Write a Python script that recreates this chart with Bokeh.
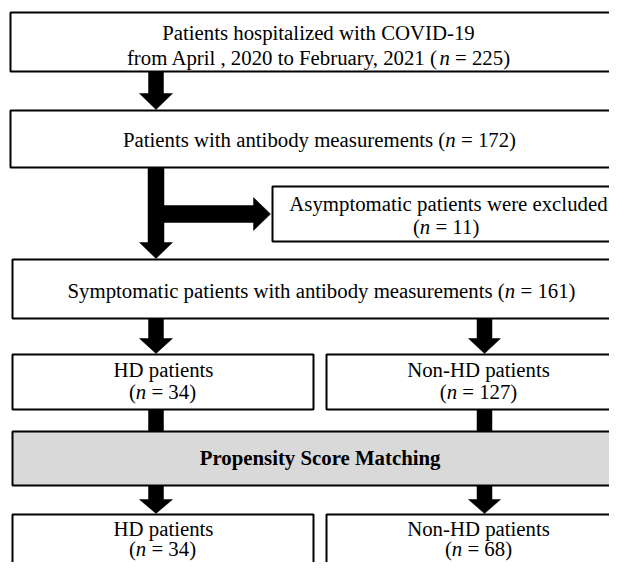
from bokeh.plotting import figure
from bokeh.models import Range1d, ColumnDataSource
from bokeh.core.properties import value
from bokeh.embed import file_html
from bokeh.resources import INLINE

# ---------------- data ----------------
stage_titles = [
    "Patients hospitalized with COVID-19",
    "from April , 2020 to February, 2021 ",
    "Patients with antibody measurements ",
    "Asymptomatic patients were excluded",
    "Symptomatic patients with antibody measurements ",
    "HD patients",
    "Non-HD patients",
    "Propensity Score Matching",
]
counts_total = 225
counts_antibody = 172
counts_excluded = 11
counts_symptomatic = 161
counts_groups = [34, 127]          # HD, Non-HD before matching
counts_matched = [34, 68]          # HD, Non-HD after matching

FONT = "Liberation Serif"
FS = 20.8
TEXT_SHIFT = 8  # compensates the renderer's baseline offset

# Times metrics (1/1000 em)
REG = {' ': 250, '(': 333, ')': 333, ',': 250, '-': 333, '.': 250, '=': 564,
       'A': 722, 'C': 667, 'D': 722, 'F': 556, 'H': 722, 'I': 333, 'M': 889,
       'N': 722, 'O': 722, 'P': 556, 'S': 556, 'V': 722,
       'a': 444, 'b': 500, 'c': 444, 'd': 500, 'e': 444, 'f': 333, 'g': 500,
       'h': 500, 'i': 278, 'l': 278, 'm': 778, 'n': 500, 'o': 500, 'p': 500,
       'r': 333, 's': 389, 't': 278, 'u': 500, 'w': 722, 'x': 500, 'y': 500,
       'z': 444}
ITA = {'n': 500, ' ': 250}
BLD = {' ': 250, 'P': 611, 'S': 556, 'M': 944, 'a': 500, 'c': 444, 'e': 444,
       'g': 500, 'h': 556, 'i': 278, 'n': 556, 'o': 500, 'p': 556, 'r': 444,
       's': 389, 't': 333, 'y': 500}
TABLES = {"normal": REG, "italic": ITA, "bold": BLD}


def width(s, style):
    t = TABLES[style]
    return sum(t.get(ch, 500) for ch in s) * FS / 1000.0


def n_line(prefix, count):
    return [(prefix + "(", "normal"), ("n", "italic"), (f" = {count})", "normal")]


# ---------------- figure ----------------
p = figure(width=609, height=562, output_backend="svg", toolbar_location=None,
           x_range=Range1d(0, 609), y_range=Range1d(562, 0),
           x_axis_location=None, y_axis_location=None, min_border=0,
           background_fill_color="white", border_fill_color="white")
p.grid.visible = False
p.outline_line_color = None

RIGHT = 640  # boxes run past the right edge of the picture

boxes = [  # left, right, top, bottom, fill
    (10, RIGHT, 12, 71, "white"),
    (10, RIGHT, 110, 167, "white"),
    (272, RIGHT, 186, 241, "white"),
    (12, RIGHT, 259, 318, "white"),
    (12, 313, 354, 409, "white"),
    (326, RIGHT, 354, 409, "white"),
    (12, RIGHT, 431, 485, "#d9d9d9"),
    (12, 313, 514, 620, "white"),
    (326, RIGHT, 514, 620, "white"),
]
p.quad(left=[b[0] for b in boxes], right=[b[1] for b in boxes],
       top=[b[2] for b in boxes], bottom=[b[3] for b in boxes],
       fill_color=[b[4] for b in boxes], line_color="black", line_width=2)


# ---------------- arrows ----------------
def v_arrow(cx, y0, base, tip, sw, hw):
    xs = [cx - sw, cx + sw, cx + sw, cx + hw, cx, cx - hw, cx - sw]
    ys = [y0, y0, base, base, tip, base, base]
    return xs, ys


def v_bar(cx, y0, y1, sw):
    return [cx - sw, cx + sw, cx + sw, cx - sw], [y0, y0, y1, y1]


LX, RX = 155.5, 484.0
shapes = [
    v_arrow(LX, 71, 93, 109, 7.5, 16.5),
    v_arrow(LX, 167, 242, 258, 8, 16.5),
    v_arrow(LX, 318, 338, 353, 7.5, 16.5),
    v_arrow(RX, 318, 338, 353, 7.5, 16),
    v_bar(LX, 409, 431, 7.5),
    v_bar(RX, 409, 431, 7.5),
    v_arrow(LX, 485, 499, 513, 7.5, 16.5),
    v_arrow(RX, 485, 499, 513, 7.5, 16),
    # horizontal branch to the exclusion box
    ([LX, 253, 253, 270, 253, 253, LX],
     [205, 205, 197, 213.5, 230, 222, 222]),
]
p.patches(xs=[s[0] for s in shapes], ys=[s[1] for s in shapes],
          fill_color="black", line_color="black", line_width=0.5)

# ---------------- texts ----------------
lines = [  # segments, center x, baseline y
    ([(stage_titles[0], "normal")], 318, 40),
    (n_line(stage_titles[1], counts_total), 318, 65),
    (n_line(stage_titles[2], counts_antibody), 319, 147),
    ([(stage_titles[3], "normal")], 448, 211),
    (n_line("", counts_excluded), 446, 234),
    (n_line(stage_titles[4], counts_symptomatic), 321, 298),
    ([(stage_titles[5], "normal")], 163, 377),
    (n_line("", counts_groups[0]), 162, 399),
    ([(stage_titles[6], "normal")], 478, 377),
    (n_line("", counts_groups[1]), 478, 399),
    ([(stage_titles[7], "bold")], 320, 465),
    ([(stage_titles[5], "normal")], 163, 536),
    (n_line("", counts_matched[0]), 162, 556),
    ([(stage_titles[6], "normal")], 478, 536),
    (n_line("", counts_matched[1]), 478, 556),
]

groups = {"normal": dict(x=[], y=[], t=[]), "italic": dict(x=[], y=[], t=[]),
          "bold": dict(x=[], y=[], t=[])}
for segs, cx, by in lines:
    total = sum(width(s, st) for s, st in segs)
    x = cx - total / 2.0
    for s, st in segs:
        lead = len(s) - len(s.lstrip(" "))
        x += width(" " * lead, st)
        body = s.lstrip(" ")
        if body.strip():
            groups[st]["x"].append(x)
            groups[st]["y"].append(by - TEXT_SHIFT)
            groups[st]["t"].append(body.rstrip(" "))
        x += width(body, st)

for st, g in groups.items():
    if not g["x"]:
        continue
    src = ColumnDataSource(dict(x=g["x"], y=g["y"], t=g["t"]))
    p.text(x="x", y="y", text="t", source=src, text_font=value(FONT),
           text_font_size=value(f"{FS}px"), text_font_style=st,
           text_align="left", text_baseline="alphabetic", text_color="black")

open("out.html", "w").write(file_html(p, INLINE))
